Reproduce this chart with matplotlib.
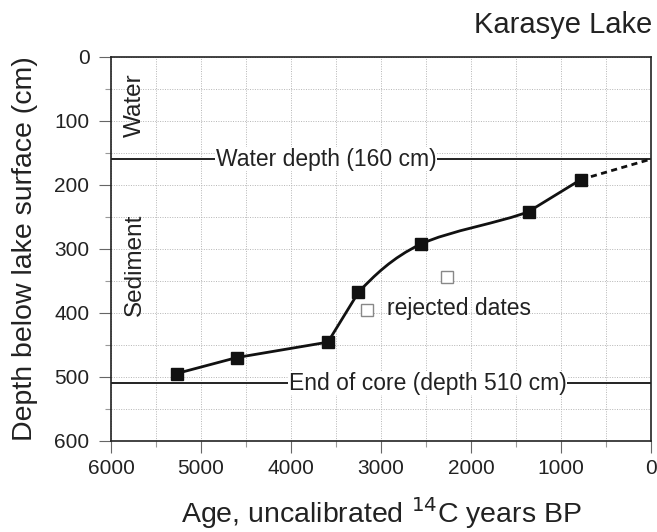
"""Age-depth model for Karasye Lake (radiocarbon dates vs. core depth)."""
import numpy as np
import matplotlib
matplotlib.use('Agg')
import matplotlib.pyplot as plt
from matplotlib.path import Path
from matplotlib.patches import PathPatch
from matplotlib.ticker import MultipleLocator

# Accepted 14C dates (years BP) and their depths (cm below lake surface)
dated_ages = [5270, 4600, 3590, 3250, 2560, 1360, 780]
dated_depths = [495, 470, 446, 368, 293, 242, 192]

# Rejected dates
rejected_ages = [3150, 2270]
rejected_depths = [395, 344]

# Extrapolation from the youngest date up to the sediment surface
extrap_ages = [780, 0]
extrap_depths = [192, 160]

water_depth = 160
core_end = 510

x_ticks = [6000, 5000, 4000, 3000, 2000, 1000, 0]
y_ticks = [0, 100, 200, 300, 400, 500, 600]

INK = '#222222'
plt.rcParams['font.family'] = ['Liberation Sans', 'DejaVu Sans']


def age_depth_path(x, y, curved):
    """Join the dates; segments flagged in `curved` are Catmull-Rom curves."""
    pts = np.column_stack([x, y]).astype(float)
    verts, codes = [pts[0]], [Path.MOVETO]
    for i in range(len(pts) - 1):
        p1, p2 = pts[i], pts[i + 1]
        if not curved[i]:
            verts.append(p2)
            codes.append(Path.LINETO)
            continue
        p0 = pts[max(i - 1, 0)]
        p3 = pts[min(i + 2, len(pts) - 1)]
        verts += [p1 + (p2 - p0) / 6, p2 - (p3 - p1) / 6, p2]
        codes += [Path.CURVE4] * 3
    return Path(verts, codes)


fig = plt.figure(figsize=(6.57, 5.32), dpi=100)
ax = fig.add_axes([111 / 657, 91.3 / 532, 540 / 657, 384 / 532])

ax.set_xlim(6000, 0)
ax.set_ylim(600, 0)
ax.set_xticks(x_ticks)
ax.set_yticks(y_ticks)
ax.xaxis.set_minor_locator(MultipleLocator(500))
ax.yaxis.set_minor_locator(MultipleLocator(50))
ax.grid(which='both', ls=(0, (1, 1.5)), color='#b5b5b5', lw=0.7)
ax.set_axisbelow(True)

ax.tick_params(which='major', length=8.5, width=0.8, color='#666666',
               labelsize=15, labelcolor=INK)
ax.tick_params(which='minor', length=4, width=0.8, color='#999999')
ax.tick_params(axis='x', which='major', pad=5)
ax.tick_params(axis='y', which='major', pad=7)
for spine in ax.spines.values():
    spine.set_linewidth(1.2)
    spine.set_color(INK)

# Water surface / end of core reference lines
ax.axhline(water_depth, color=INK, lw=1.4, zorder=2)
ax.axhline(core_end, color=INK, lw=1.4, zorder=2)
box = dict(facecolor='white', edgecolor='none', pad=0.5)
ax.text(3610, water_depth, f'Water depth ({water_depth} cm)', fontsize=16.5,
        color=INK, ha='center', va='center', bbox=box, zorder=3)
ax.text(2483, core_end, f'End of core (depth {core_end} cm)', fontsize=16.5,
        color=INK, ha='center', va='center', bbox=box, zorder=3)

# Age-depth curve
curve = age_depth_path(dated_ages, dated_depths,
                       curved=[False, False, False, True, True, False])
ax.add_patch(PathPatch(curve, fill=False, lw=2, edgecolor='#111111', zorder=4))
ax.plot(extrap_ages, extrap_depths, color='#111111', lw=2,
        ls=(0, (2.2, 1.6)), zorder=4)
ax.plot(dated_ages, dated_depths, 's', color='#111111', ms=8.5, zorder=5)
ax.plot(rejected_ages, rejected_depths, 's', mfc='white', mec='#888888',
        mew=1, ms=8, zorder=5)
ax.text(2933, 393, 'rejected dates', fontsize=16.5, color=INK,
        ha='left', va='center', zorder=5)

# Zone labels
ax.text(0.044, 0.874, 'Water', rotation=90, fontsize=17.5, color=INK,
        ha='center', va='center', transform=ax.transAxes)
ax.text(0.044, 0.4576, 'Sediment', rotation=90, fontsize=17.5, color=INK,
        ha='center', va='center', transform=ax.transAxes)

ax.text(1.002, 1.0826, 'Karasye Lake', fontsize=21, color=INK,
        ha='right', va='center', transform=ax.transAxes)

ax.set_ylabel('Depth below lake surface (cm)', fontsize=20.5, color=INK,
              va='center')
ax.yaxis.set_label_coords(-0.159, 0.5)
ax.set_xlabel('Age, uncalibrated $^{14}$C years BP', fontsize=20.5, color=INK,
              va='center')
ax.xaxis.set_label_coords(0.5, -0.188)

fig.savefig('out.png', dpi=100)
